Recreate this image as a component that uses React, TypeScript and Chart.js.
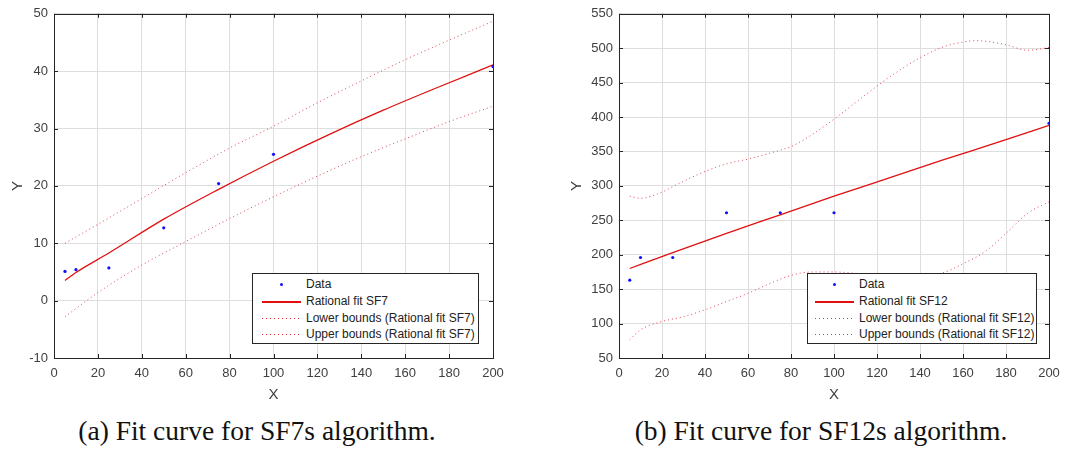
import React, { useEffect, useRef } from "react";
import { Chart, registerables } from "chart.js";

Chart.register(...registerables);

// ---------- SF7 data ----------
const sf7DataX = [5, 10, 25, 50, 75, 100, 200];
const sf7DataY = [5.1, 5.4, 5.7, 12.7, 20.4, 25.5, 40.8];
const sf7FitX = [5, 10, 25, 50, 75, 100, 125, 150, 175, 200];
const sf7FitY = [3.5, 4.9, 8.3, 14.2, 19.4, 24.3, 28.9, 33.2, 37.2, 41.1];
const sf7BoundX = [5, 20, 40, 60, 80, 100, 120, 140, 160, 180, 200];
const sf7UpperY = [10, 13.3, 17.8, 22.3, 26.6, 30.4, 34.5, 38.3, 42, 45.4, 48.7];
const sf7LowerY = [-2.8, 1.4, 6.2, 10.3, 14.3, 18.1, 21.7, 25.1, 28.2, 31.2, 33.9];

// ---------- SF12 data ----------
const sf12DataX = [5, 10, 25, 50, 75, 100, 200];
const sf12DataY = [163, 196, 196, 261, 261, 261, 391];
const sf12FitX = [5, 25, 50, 75, 100, 125, 150, 175, 200];
const sf12FitY = [180, 203, 231, 258, 285, 311, 337, 362, 388];
const sf12UpperX = [5, 10, 20, 25, 40, 50, 60, 75, 80, 90, 100, 110, 120, 130, 140, 150, 160, 166, 180, 190, 200];
const sf12UpperY = [285, 282, 291, 299, 321, 332, 339, 352, 357, 375, 397, 421, 445, 467, 486, 501, 509, 511, 505, 497, 501];
const sf12LowerX = [5, 10, 20, 30, 40, 50, 60, 70, 80, 90, 100, 110, 120, 130, 140, 150, 160, 170, 180, 190, 200];
const sf12LowerY = [76.5, 91, 103, 110, 120, 132, 144, 158, 170, 175, 175, 173, 170, 168, 169, 173, 187, 204, 231, 260, 277];

const xTicks = [0, 20, 40, 60, 80, 100, 120, 140, 160, 180, 200];

const zip = (xs: number[], ys: number[]) => xs.map((x, i) => ({ x, y: ys[i] }));

const AXIS = "#262626";
const TICKTXT = "#404040";
const GRID = "#dedede";
const RED = "#e01010";
const DOT_RED = "rgba(215,40,60,0.85)";

const boxPlugin = {
  id: "matlabBox",
  afterDraw(chart: any) {
    const { ctx, chartArea: a, scales } = chart;
    ctx.save();
    ctx.strokeStyle = AXIS;
    ctx.lineWidth = 1;
    const L = 4;
    ctx.beginPath();
    scales.x.ticks.forEach((t: any) => {
      const px = Math.round(scales.x.getPixelForValue(t.value)) + 0.5;
      ctx.moveTo(px, a.bottom);
      ctx.lineTo(px, a.bottom - L);
      ctx.moveTo(px, a.top);
      ctx.lineTo(px, a.top + L);
    });
    scales.y.ticks.forEach((t: any) => {
      const py = Math.round(scales.y.getPixelForValue(t.value)) + 0.5;
      ctx.moveTo(a.left, py);
      ctx.lineTo(a.left + L, py);
      ctx.moveTo(a.right, py);
      ctx.lineTo(a.right - L, py);
    });
    ctx.stroke();
    ctx.strokeRect(Math.round(a.left) + 0.5, Math.round(a.top) + 0.5, Math.round(a.right - a.left), Math.round(a.bottom - a.top));
    ctx.restore();
  },
};

type Cfg = {
  dataPts: { x: number; y: number }[];
  fit: { x: number; y: number }[];
  lower: { x: number; y: number }[];
  upper: { x: number; y: number }[];
  labels: string[];
  yMin: number;
  yMax: number;
  yStep: number;
  padLeft: number;
  yWidth: number;
  padRight: number;
};

function FitChart(props: Cfg & { width: number; height: number }) {
  const ref = useRef<HTMLCanvasElement>(null);
  useEffect(() => {
    const c = props;
    const chart = new Chart(ref.current!, {
      type: "scatter",
      data: {
        datasets: [
          {
            label: c.labels[0],
            data: c.dataPts,
            showLine: false,
            pointRadius: 1.6,
            pointBackgroundColor: "#1010ff",
            pointBorderWidth: 0,
            order: 0,
          },
          {
            label: c.labels[1],
            data: c.fit,
            showLine: true,
            borderColor: RED,
            borderWidth: 1.3,
            pointRadius: 0,
            cubicInterpolationMode: "monotone",
            order: 1,
          },
          {
            label: c.labels[2],
            data: c.lower,
            showLine: true,
            borderColor: DOT_RED,
            borderWidth: 1,
            borderDash: [1, 3],
            pointRadius: 0,
            cubicInterpolationMode: "monotone",
            order: 2,
          },
          {
            label: c.labels[3],
            data: c.upper,
            showLine: true,
            borderColor: DOT_RED,
            borderWidth: 1,
            borderDash: [1, 3],
            pointRadius: 0,
            cubicInterpolationMode: "monotone",
            order: 3,
          },
        ] as any,
      },
      options: {
        animation: false,
        responsive: false,
        layout: { padding: { top: 12, right: c.padRight, left: c.padLeft, bottom: 0 } },
        plugins: { legend: { display: false }, tooltip: { enabled: false } },
        scales: {
          x: {
            type: "linear",
            min: 0,
            max: 200,
            afterBuildTicks: (s: any) => {
              s.ticks = xTicks.map((v) => ({ value: v }));
            },
            afterFit: (s: any) => {
              s.height = 47;
            },
            ticks: {
              color: TICKTXT,
              font: { family: "'Liberation Sans', Arial, sans-serif", size: 13 },
              padding: 8,
            },
            grid: { color: GRID, drawTicks: false },
            border: { display: false },
            title: {
              display: true,
              text: "X",
              color: TICKTXT,
              font: { family: "'Liberation Sans', Arial, sans-serif", size: 15 },
              padding: { top: 0, bottom: 1 },
            },
          },
          y: {
            type: "linear",
            min: c.yMin,
            max: c.yMax,
            ticks: {
              stepSize: c.yStep,
              color: TICKTXT,
              font: { family: "'Liberation Sans', Arial, sans-serif", size: 13 },
              padding: 6,
            },
            afterFit: (s: any) => {
              s.width = c.yWidth;
            },
            grid: { color: GRID, drawTicks: false },
            border: { display: false },
            title: {
              display: true,
              text: "Y",
              color: TICKTXT,
              font: { family: "'Liberation Sans', Arial, sans-serif", size: 15 },
              padding: { top: 9, bottom: 0 },
            },
          },
        },
      } as any,
      plugins: [boxPlugin],
    });
    return () => chart.destroy();
  }, []);
  return <canvas ref={ref} width={props.width} height={props.height} style={{ width: props.width, height: props.height, display: "block" }} />;
}

function Legend(props: { left: number; top: number; width: number; labels: string[]; sampleLeft: number; textLeft: number }) {
  const rows = [11, 28, 45, 61];
  const sw = 39;
  return (
    <div
      style={{
        position: "absolute",
        left: props.left,
        top: props.top,
        width: props.width,
        height: 71,
        background: "#fff",
        border: `1px solid ${AXIS}`,
        boxSizing: "border-box",
        fontFamily: "'Liberation Sans', Arial, sans-serif",
        fontSize: 12,
        color: "#222",
      }}
    >
      {props.labels.map((lab, i) => (
        <React.Fragment key={i}>
          {i === 0 ? (
            <div style={{ position: "absolute", left: props.sampleLeft + sw / 2 - 1.5, top: rows[i] - 2.5, width: 3, height: 3, borderRadius: 2, background: "#1010ff" }} />
          ) : (
            <div
              style={{
                position: "absolute",
                left: props.sampleLeft,
                top: rows[i] - 1,
                width: sw,
                height: i === 1 ? 2 : 1,
                background:
                  i === 1
                    ? RED
                    : `repeating-linear-gradient(to right, #e8303c 0px, #e8303c 1px, transparent 1px, transparent 4px)`,
              }}
            />
          )}
          <div style={{ position: "absolute", left: props.textLeft, top: rows[i] - 9, lineHeight: "16px", whiteSpace: "nowrap" }}>{lab}</div>
        </React.Fragment>
      ))}
    </div>
  );
}

const sf7Labels = ["Data", "Rational fit SF7", "Lower bounds (Rational fit SF7)", "Upper bounds (Rational fit SF7)"];
const sf12Labels = ["Data", "Rational fit SF12", "Lower bounds (Rational fit SF12)", "Upper bounds (Rational fit SF12)"];

export default function App() {
  const capStyle: React.CSSProperties = {
    position: "absolute",
    top: 417,
    width: 520,
    textAlign: "center",
    fontFamily: "'Liberation Serif', 'Times New Roman', serif",
    fontSize: 27.5,
    lineHeight: 1,
    color: "#111",
    whiteSpace: "nowrap",
  };
  return (
    <div style={{ position: "absolute", left: 0, top: 0, width: 1072, height: 453, background: "#fff", overflow: "hidden" }}>
      <div style={{ position: "absolute", left: 0, top: 0 }}>
        <FitChart
          width={536}
          height={405}
          dataPts={zip(sf7DataX, sf7DataY)}
          fit={zip(sf7FitX, sf7FitY)}
          lower={zip(sf7BoundX, sf7LowerY)}
          upper={zip(sf7BoundX, sf7UpperY)}
          labels={sf7Labels}
          yMin={-10}
          yMax={50}
          yStep={10}
          padLeft={0}
          yWidth={54}
          padRight={43}
        />
      </div>
      <div style={{ position: "absolute", left: 536, top: 0 }}>
        <FitChart
          width={536}
          height={405}
          dataPts={zip(sf12DataX, sf12DataY)}
          fit={zip(sf12FitX, sf12FitY)}
          lower={zip(sf12LowerX, sf12LowerY)}
          upper={zip(sf12UpperX, sf12UpperY)}
          labels={sf12Labels}
          yMin={50}
          yMax={550}
          yStep={50}
          padLeft={23}
          yWidth={60}
          padRight={23}
        />
      </div>
      <Legend left={252} top={273} width={227} labels={sf7Labels} sampleLeft={9} textLeft={53} />
      <Legend left={807} top={273} width={230} labels={sf12Labels} sampleLeft={7} textLeft={51} />
      <div style={{ ...capStyle, left: 257 - 260 }}>(a) Fit curve for SF7s algorithm.</div>
      <div style={{ ...capStyle, left: 821 - 260 }}>(b) Fit curve for SF12s algorithm.</div>
    </div>
  );
}
